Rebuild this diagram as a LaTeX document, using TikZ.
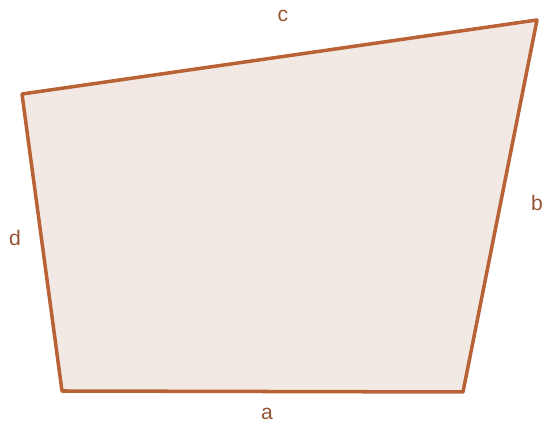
\documentclass[tikz,border=0pt]{standalone}
\usepackage{fontspec}
\setmainfont{Liberation Sans}
\usepackage{xcolor}
\usepackage{tikz}
\usetikzlibrary{positioning,calc}
\definecolor{quadedge}{RGB}{184,98,54}
\definecolor{quadfill}{RGB}{243,233,228}
\definecolor{quadtext}{RGB}{150,82,50}
\tikzset{
  side/.style={draw=quadedge, line width=2pt, fill=quadfill, line join=round},
  sidelbl/.style={font=\fontsize{12}{14}\selectfont, text=quadtext, inner sep=1pt}
}

\begin{document}
\begin{tikzpicture}
    \useasboundingbox (0,0) rectangle (10.84,-8.58);
    \coordinate (A) at (1.24,-7.82);
    \coordinate (B) at (9.26,-7.84);
    \coordinate (C) at (10.74,-0.40);
    \coordinate (D) at (0.44,-1.88);
    \draw[side] (A) -- (B) -- (C) -- (D) -- cycle;
    \node[sidelbl] (la) at (5.34,-8.28) {a};
    \node[sidelbl] (lb) at (10.74,-4.06) {b};
    \node[sidelbl] (lc) at (5.66,-0.32) {c};
    \node[sidelbl] (ld) at (0.30,-4.76) {d};
  \end{tikzpicture}
\end{document}
